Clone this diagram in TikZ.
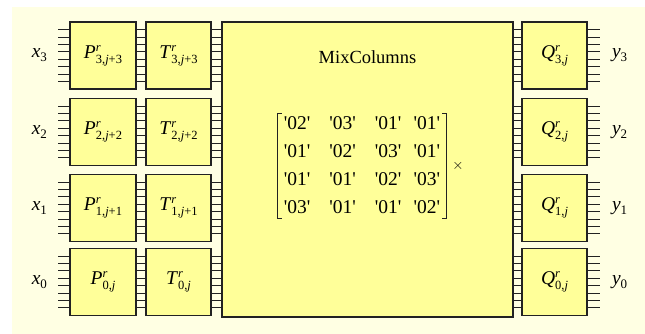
\documentclass[tikz,border=0pt]{standalone}
\usepackage{fontspec}
\setmainfont{Liberation Serif}
\newfontfamily\matfont{Liberation Serif}[Ligatures=ResetAll]
\usetikzlibrary{calc}
\definecolor{bgyellow}{HTML}{FFFFE3}
\definecolor{boxyellow}{HTML}{FFFF99}
\definecolor{edge}{HTML}{222222}
\newcommand{\varlab}[3]{\textit{#1}\rlap{\raisebox{0.75ex}{\fontsize{12.5}{12.5}\selectfont\textit{#2}}}\raisebox{-0.55ex}{\fontsize{12.5}{12.5}\selectfont #3}}
\newcommand{\inlab}[2]{\textit{#1}\raisebox{-0.45ex}{\fontsize{13}{13}\selectfont #2}}
\begin{document}
\begin{tikzpicture}[x=1pt,y=-1pt,
  sbox/.style={draw=edge,line width=1.2pt,fill=boxyellow,minimum width=66pt,minimum height=67pt,inner sep=0pt,font=\fontsize{19.5}{19.5}\selectfont},
  stub/.style={draw=edge,line width=0.9pt},
  brk/.style={draw=edge,line width=0.8pt},
  iolab/.style={font=\fontsize{19.5}{19.5}\selectfont,inner sep=0pt}]
\useasboundingbox (0,0) rectangle (645,334);
\fill[bgyellow] (12,7) rectangle (645,334);
% rows
\foreach \r/\yc/\ps in {3/55.5/{3,\textit{j}+3},2/132/{2,\textit{j}+2},1/208/{1,\textit{j}+1},0/282/{0,\textit{j}}}{
  \node[sbox] (P\r) at (103,\yc) {\varlab{P}{r}{\ps}};
  \node[sbox,minimum width=65pt] (T\r) at (178.5,\yc) {\varlab{T}{r}{\ps}};
}
\foreach \r/\yc/\qs in {3/55.5/{3,\textit{j}},2/132/{2,\textit{j}},1/208/{1,\textit{j}},0/282/{0,\textit{j}}}{
  \node[sbox,minimum width=65pt] (Q\r) at (554.5,\yc) {\varlab{Q}{r}{\qs}};
}
\node[draw=edge,line width=1.2pt,fill=boxyellow,minimum width=291pt,minimum height=295pt,inner sep=0pt] (M) at (367.5,169.5) {};
\node[font=\fontsize{18.5}{18.5}\selectfont,inner sep=0pt] (title) at (367.5,57) {MixColumns};
\node[font=\matfont\fontsize{19.5}{28}\selectfont,inner sep=0pt] (mat) at (362,166)
  {\begin{tabular}{@{\hspace{6pt}}c@{\hspace{19pt}}c@{\hspace{19pt}}c@{\hspace{12pt}}c@{\hspace{6pt}}}
   '02' & '03' & '01' & '01'\\
   '01' & '02' & '03' & '01'\\
   '01' & '01' & '02' & '03'\\
   '03' & '01' & '01' & '02'
  \end{tabular}};
\draw[brk] ($(mat.north west)+(4,4)$) -- ($(mat.north west)+(0,4)$) -- ($(mat.south west)+(0,-4)$) -- ++(4,0);
\draw[brk] ($(mat.north east)+(-4,4)$) -- ($(mat.north east)+(0,4)$) -- ($(mat.south east)+(0,-4)$) -- ++(-4,0);
\node[font=\fontsize{14}{14}\selectfont,inner sep=0pt] (times) at (458,166) {$\times$};
% io labels
\foreach \r in {3,2,1,0}{
  \node[iolab] (x\r) at ($(P\r.west)+(-30,0)$) {\inlab{x}{\r}};
  \node[iolab] (y\r) at ($(Q\r.east)+(32,0)$) {\inlab{y}{\r}};
}
% stubs
\foreach \r in {3,2,1,0}{
  \foreach \o in {-25.9,-18.5,-11.1,-3.7,3.7,11.1,18.5,25.9}{
    \draw[stub] ($(P\r.west)+(0,\o)$) -- ++(-11,0);
    \draw[stub] ($(P\r.east)+(0,\o)$) -- ($(T\r.west)+(0,\o)$);
    \draw[stub] ($(T\r.east)+(0,\o)$) -- (M.west |- {$(T\r.east)+(0,\o)$});
    \draw[stub] (M.east |- {$(Q\r.west)+(0,\o)$}) -- ($(Q\r.west)+(0,\o)$);
    \draw[stub] ($(Q\r.east)+(0,\o)$) -- ++(12,0);
  }
}
\end{tikzpicture}
\end{document}
